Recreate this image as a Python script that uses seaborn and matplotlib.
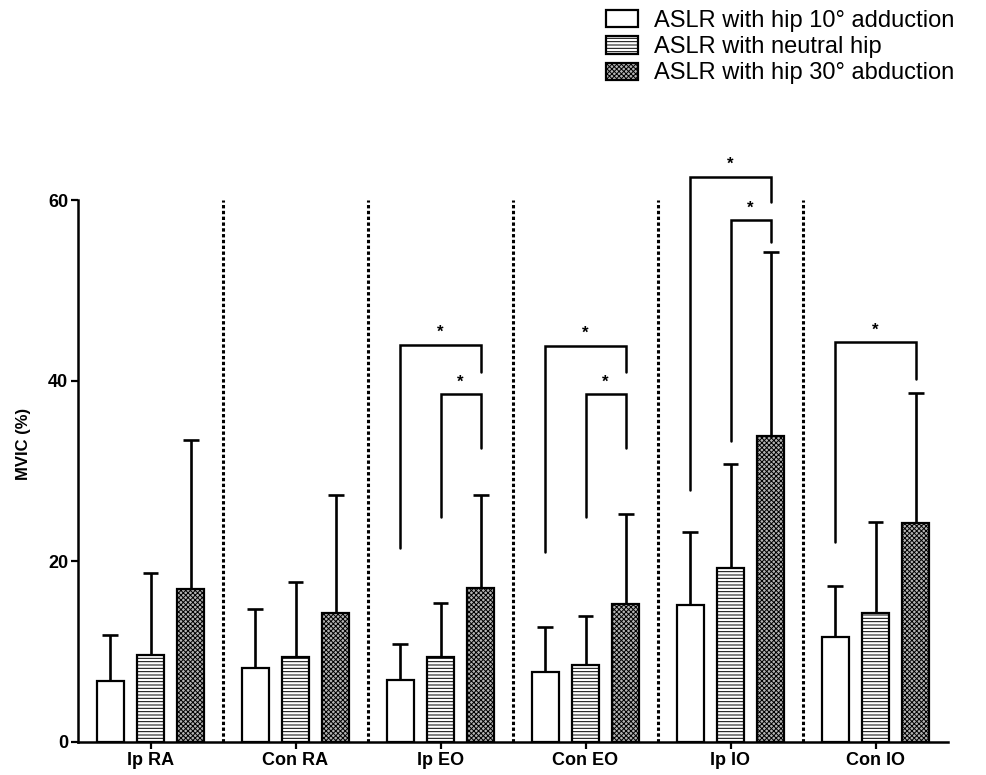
import numpy as np
import pandas as pd
import matplotlib
matplotlib.use("Agg")
import matplotlib.pyplot as plt
from matplotlib.patches import Patch
import seaborn as sns

# data (mean and SD in % MVIC)
muscles = ["Ip RA", "Con RA", "Ip EO", "Con EO", "Ip IO", "Con IO"]
conditions = ["ASLR with hip 10\u00b0 adduction", "ASLR with neutral hip",
              "ASLR with hip 30\u00b0 abduction"]
mean_add = [6.7, 8.2, 6.9, 7.8, 15.2, 11.6]
mean_neu = [9.6, 9.4, 9.4, 8.5, 19.3, 14.3]
mean_abd = [16.9, 14.3, 17.0, 15.3, 33.9, 24.3]
top_add = [11.8, 14.7, 10.8, 12.7, 23.3, 17.3]
top_neu = [18.7, 17.7, 15.4, 13.9, 30.8, 24.4]
top_abd = [33.4, 27.3, 27.3, 25.2, 54.3, 38.6]

# significance brackets: (group, left cond, right cond, top y, left leg end, right leg end)
brackets = [
    (2, 0, 2, 44.0, 21.5, 41.0),
    (2, 1, 2, 38.5, 24.9, 32.6),
    (3, 0, 2, 43.9, 21.0, 41.0),
    (3, 1, 2, 38.5, 24.9, 32.6),
    (4, 0, 2, 62.6, 27.9, 59.8),
    (4, 1, 2, 57.8, 33.3, 55.4),
    (5, 0, 2, 44.3, 22.2, 40.2),
]

sns.set_style("ticks")
plt.rcParams["font.family"] = ["Liberation Sans", "DejaVu Sans"]
plt.rcParams["hatch.linewidth"] = 0.7
for key in ["text.color", "axes.labelcolor", "xtick.color", "ytick.color", "axes.edgecolor"]:
    plt.rcParams[key] = "black"

df = pd.DataFrame({
    "muscle": muscles * 3,
    "cond": [c for c in conditions for _ in muscles],
    "mvic": mean_add + mean_neu + mean_abd,
})
tops = [top_add, top_neu, top_abd]

fig = plt.figure(figsize=(9.86, 7.75), dpi=100)
ax = fig.add_axes([78 / 986, 33 / 775, 870 / 986, 596 / 775])

sns.barplot(data=df, x="muscle", y="mvic", hue="cond", order=muscles,
            hue_order=conditions, width=0.83, gap=0.31, errorbar=None,
            edgecolor="black", linewidth=1.6, legend=False, ax=ax)

fills = ["white", "white", "#b4b4b4"]
hatches = [None, "-----", "xxxxxxx"]
centers = np.zeros((3, len(muscles)))
for k, cont in enumerate(ax.containers):
    for j, bar in enumerate(cont):
        bar.set_facecolor(fills[k])
        bar.set_hatch(hatches[k])
        bar.set_edgecolor("black")
        cx = bar.get_x() + bar.get_width() / 2
        centers[k, j] = cx
        ax.vlines(cx, bar.get_height(), tops[k][j], color="black", lw=1.9, zorder=3)
        ax.hlines(tops[k][j], cx - 0.055, cx + 0.055, color="black", lw=1.9, zorder=3)

# dotted separators between muscles
ax.vlines(np.arange(len(muscles) - 1) + 0.5, 0, 60, color="black", lw=2.2,
          linestyles=[(0, (1.1, 0.8))])

for g, a, b, ytop, yl, yr in brackets:
    xl, xr = centers[a, g], centers[b, g]
    ax.plot([xl, xl, xr, xr], [yl, ytop, ytop, yr], color="black", lw=1.8,
            solid_joinstyle="miter")
    ax.text((xl + xr) / 2, ytop + 0.5, "*", ha="center", va="bottom",
            fontsize=12, fontweight="bold")

ax.set_xlim(-0.5, len(muscles) - 0.5)
ax.set_ylim(0, 66)
ax.set_yticks([0, 20, 40, 60])
ax.set_xlabel("")
ax.set_ylabel("MVIC (%)", fontsize=12, fontweight="bold", labelpad=12)
for lab in ax.get_xticklabels() + ax.get_yticklabels():
    lab.set_fontweight("bold")
ax.tick_params(axis="both", labelsize=13, width=1.6, length=5, pad=2)
ax.spines["left"].set_bounds(0, 60)
for s in ["left", "bottom"]:
    ax.spines[s].set_linewidth(1.8)
sns.despine(ax=ax)

handles = [Patch(facecolor=fills[k], edgecolor="black", hatch=hatches[k],
                 linewidth=1.6, label=conditions[k]) for k in range(3)]
fig.legend(handles=handles, loc="upper left", bbox_to_anchor=(606 / 986, 1 - 10 / 775),
           frameon=False, fontsize=17, handlelength=1.35, handleheight=0.75,
           handletextpad=0.7, labelspacing=0.18, borderpad=0, borderaxespad=0)

fig.savefig("out.png", dpi=100)
